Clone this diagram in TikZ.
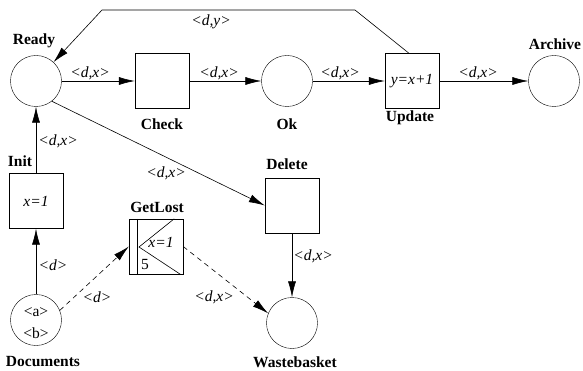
\documentclass[tikz,border=0pt]{standalone}
\usepackage{fontspec}
\setmainfont{Liberation Serif}
\usetikzlibrary{arrows.meta,calc}

\begin{document}
\begin{tikzpicture}[x=1pt,y=-1pt,
    every node/.style={font=\fontsize{15.5}{18}\selectfont},
    place/.style={draw,circle,minimum size=51pt,inner sep=0pt},
    trans/.style={draw,minimum width=54pt,minimum height=55pt,inner sep=0pt},
    pname/.style={font=\fontsize{15.5}{18}\selectfont\bfseries},
    lbl/.style={font=\fontsize{15.5}{18}\selectfont\itshape},
    arc/.style={line width=0.6pt,-{Latex[length=16pt,width=8pt]}},
    lost/.style={arc,dash pattern=on 5pt off 4pt}]
    \useasboundingbox (0,0) rectangle (583,371);

    \node[place] (Ready)       at ( 36, 81) {};
    \node[trans] (Check)       at (162, 81) {};
    \node[place] (Ok)          at (287, 81) {};
    \node[trans] (Update)      at (412, 81) {\itshape y=x+1};
    \node[place] (Archive)     at (554, 81) {};
    \node[trans] (Init)        at ( 36,201) {\itshape x=1};
    \node[place] (Documents)   at ( 36,320) {};
    \node[trans] (GetLost)     at (156,246.5) {};
    \node[trans] (Delete)      at (292,205.5) {};
    \node[place] (Wastebasket) at (292,323) {};

    \node[pname] (n-ready)   at ( 34, 41) {Ready};
    \node[pname] (n-check)   at (162,124) {Check};
    \node[pname] (n-ok)      at (287,124) {Ok};
    \node[pname] (n-update)  at (410,118) {Update};
    \node[pname] (n-archive) at (555, 44) {Archive};
    \node[pname] (n-init)    at ( 20,161) {Init};
    \node[pname] (n-getlost) at (157,207) {GetLost};
    \node[pname] (n-delete)  at (287,164) {Delete};
    \node[pname] (n-docs)    at ( 43,362) {Documents};
    \node[pname] (n-waste)   at (295,362) {Wastebasket};

    \node (tok-a) at (36,312) {<a>};
    \node (tok-b) at (36,333) {<b>};

    \draw[line width=0.6pt] ($(GetLost.north west)+(8,0)$) -- ($(GetLost.south west)+(8,0)$);
    \draw[line width=0.6pt] ($(GetLost.north east)+(-9,0)$) -- ($(GetLost)+(-17,0.5)$)
        -- ($(GetLost.south east)+(-3,0)$);
    \node[lbl] (gl-x) at (161,242) {x=1};
    \node (gl-n) at (145,265) {5};

    \coordinate (up-r) at (355,10);
    \coordinate (up-l) at (102,10);

    \draw[arc] (Ready) -- (Check);
    \draw[arc] (Check) -- (Ok);
    \draw[arc] (Ok) -- (Update);
    \draw[arc] (Update) -- (Archive);
    \draw[arc] ([xshift=-3pt]Update.north) -- (up-r) -- (up-l) -- (Ready);
    \draw[arc] (Documents) -- (Init);
    \draw[arc] (Init) -- (Ready);
    \draw[arc] (Ready.-52) -- (Delete.west);
    \draw[arc] (Delete) -- (Wastebasket);
    \draw[lost] (Documents.22) -- (GetLost.west);
    \draw[lost] (GetLost.east) -- (Wastebasket.158);

    \node[lbl] (l-rc) at ( 90, 73) {<d,x>};
    \node[lbl] (l-co) at (219, 73) {<d,x>};
    \node[lbl] (l-ou) at (340, 73) {<d,x>};
    \node[lbl] (l-ua) at (478, 73) {<d,x>};
    \node[lbl] (l-ur) at (211, 22) {<d,y>};
    \node[lbl] (l-ir) at ( 58,141) {<d,x>};
    \node[lbl] (l-di) at ( 53,265) {<d>};
    \node[lbl] (l-rd) at (166,173) {<d,x>};
    \node[lbl] (l-dg) at ( 97,297) {<d>};
    \node[lbl] (l-gw) at (214,297) {<d,x>};
    \node[lbl] (l-dw) at (313,256) {<d,x>};
\end{tikzpicture}
\end{document}
